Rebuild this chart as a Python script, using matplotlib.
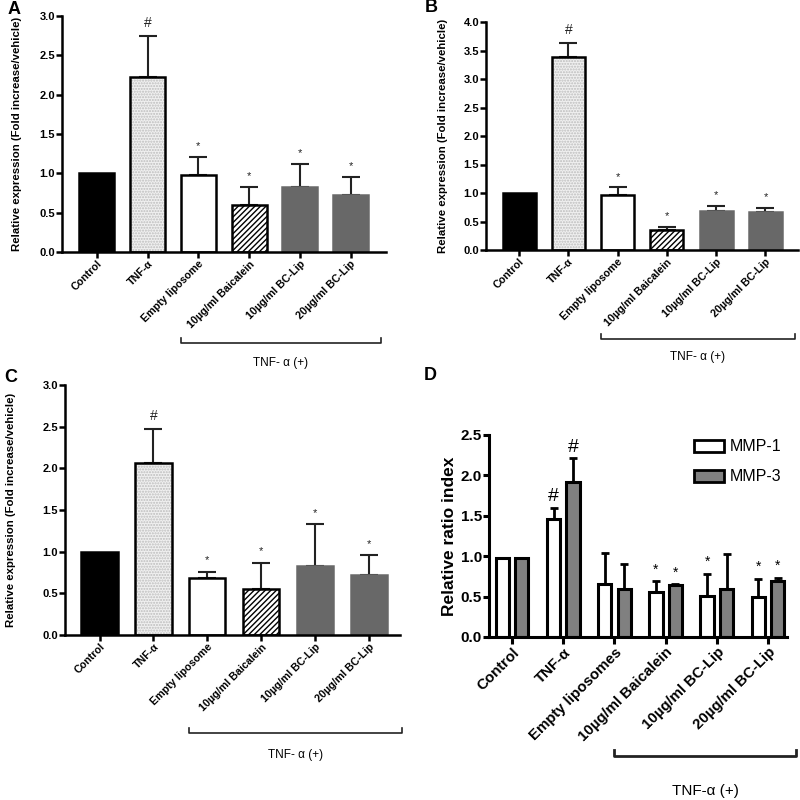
import matplotlib
matplotlib.use("Agg")
import matplotlib.pyplot as plt
import matplotlib.transforms as mtrans
import numpy as np

plt.rcParams['font.family'] = ['Liberation Sans', 'DejaVu Sans']

# ---------------- data ----------------
cats_abc = ["Control", "TNF-\u03b1", "Empty liposome", "10\u00b5g/ml Baicalein",
            "10\u00b5g/ml BC-Lip", "20\u00b5g/ml BC-Lip"]
cats_d = ["Control", "TNF-\u03b1", "Empty liposomes", "10\u00b5g/ml Baicalein",
          "10\u00b5g/ml BC-Lip", "20\u00b5g/ml BC-Lip"]

a_vals = [1.00, 2.23, 0.98, 0.60, 0.82, 0.73]
a_err = [0.00, 0.52, 0.23, 0.23, 0.30, 0.22]
b_vals = [1.00, 3.38, 0.96, 0.35, 0.69, 0.67]
b_err = [0.00, 0.25, 0.14, 0.06, 0.08, 0.07]
c_vals = [1.00, 2.07, 0.68, 0.55, 0.83, 0.72]
c_err = [0.00, 0.40, 0.08, 0.32, 0.50, 0.24]

d_mmp1 = [0.98, 1.46, 0.66, 0.56, 0.51, 0.49]
d_mmp1_err = [0.00, 0.14, 0.38, 0.13, 0.27, 0.23]
d_mmp3 = [0.98, 1.92, 0.60, 0.64, 0.59, 0.69]
d_mmp3_err = [0.00, 0.29, 0.30, 0.01, 0.44, 0.04]

sig_abc = ["", "#", "*", "*", "*", "*"]
sig_d1 = ["", "#", "", "*", "*", "*"]
sig_d3 = ["", "#", "", "*", "", "*"]

ylab_abc = "Relative expression (Fold increase/vehicle)"
ylab_d = "Relative ratio index"
group_label_abc = "TNF- \u03b1 (+)"
group_label_d = "TNF-\u03b1 (+)"

W, H = 800, 800
fig = plt.figure(figsize=(8, 8), dpi=100)
plt.rcParams['hatch.linewidth'] = 1.0


def px_axes(left, top, right, bottom):
    return fig.add_axes([left / W, 1 - bottom / H, (right - left) / W, (bottom - top) / H])


def style_axes(ax, lw, fs):
    for s in ["top", "right"]:
        ax.spines[s].set_visible(False)
    ax.spines["left"].set_linewidth(lw)
    ax.spines["bottom"].set_linewidth(lw)
    ax.tick_params(axis="both", width=lw, length=4, labelsize=fs, pad=1)
    for t in ax.get_yticklabels():
        t.set_fontweight("bold")


def draw_abc(ax, vals, errs, ymax, xlim, width, tick_fs, sig_fs, ylab_x):
    x = np.arange(len(vals))
    styles = [
        dict(color="black", edgecolor="black"),
        None,
        dict(color="white", edgecolor="black"),
        dict(color="white", edgecolor="black", hatch="//////"),
        dict(color="#686868", edgecolor="#686868"),
        dict(color="#686868", edgecolor="#686868"),
    ]
    for i in range(len(vals)):
        if styles[i] is None:
            ax.bar(x[i], vals[i], width=width, color="#f0f0f0", edgecolor="#bdbdbd",
                   hatch="......", linewidth=0, zorder=2)
            ax.bar(x[i], vals[i], width=width, fill=False, edgecolor="black",
                   linewidth=1.8, zorder=3)
        else:
            ax.bar(x[i], vals[i], width=width, linewidth=1.8, zorder=2, **styles[i])
    m = np.array(errs) > 0
    ax.errorbar(x[m], np.array(vals)[m], yerr=[np.zeros(m.sum()), np.array(errs)[m]],
                fmt="none", ecolor="#222222", elinewidth=1.5, capsize=6.3, capthick=1.5, zorder=1)
    for i in range(len(vals)):
        if sig_abc[i]:
            top = vals[i] + errs[i]
            fs = sig_fs + 2 if sig_abc[i] == "#" else sig_fs
            ax.text(x[i], top + ymax * 0.025, sig_abc[i], ha="center", va="bottom",
                    fontsize=fs, color="#222222")
    ax.set_ylim(0, ymax)
    ax.set_xlim(*xlim)
    ax.set_xticks(x)
    ax.set_xticklabels(cats_abc, rotation=45, ha="right", rotation_mode="anchor",
                       fontsize=tick_fs, fontweight="bold")
    ax.set_yticks(np.arange(0, ymax + 0.01, 0.5))
    ax.set_yticklabels([f"{v:.1f}" for v in np.arange(0, ymax + 0.01, 0.5)])
    style_axes(ax, 1.8, 8)
    ax.tick_params(axis="x", length=4, labelsize=tick_fs)
    ax.set_ylabel(ylab_abc, fontsize=8.2, fontweight="bold")
    ax.yaxis.set_label_coords(ylab_x, 0.5)


def bracket(ax, x0, x1, y, ty, text, lw, fs, tick=0.02):
    tr = mtrans.blended_transform_factory(ax.transData, ax.transAxes)
    ax.plot([x0, x0, x1, x1], [y + tick, y, y, y + tick], color="#222222", lw=lw,
            transform=tr, clip_on=False)
    ax.text((x0 + x1) / 2, ty, text, transform=tr, ha="center", va="center", fontsize=fs)


# Panel A
axA = px_axes(62, 16, 386, 252)
draw_abc(axA, a_vals, a_err, 3.0, (-0.69, 5.70), 0.69, 7.7, 8, -0.123)
bracket(axA, 1.66, 5.6, -0.386, -0.47, group_label_abc, 1.2, 8.5)
fig.text(8 / W, 1 - 9 / H, "A", fontsize=13, fontweight="bold", va="center")

# Panel B
axB = px_axes(486, 22, 798, 250)
draw_abc(axB, b_vals, b_err, 4.0, (-0.67, 5.66), 0.67, 7.7, 8, -0.122)
bracket(axB, 1.66, 5.6, -0.39, -0.47, group_label_abc, 1.2, 8.5)
fig.text(425 / W, 1 - 8 / H, "B", fontsize=13, fontweight="bold", va="center")

# Panel C
axC = px_axes(65, 385, 400, 635)
draw_abc(axC, c_vals, c_err, 3.0, (-0.64, 5.57), 0.67, 7.7, 8, -0.146)
bracket(axC, 1.66, 5.6, -0.39, -0.48, group_label_abc, 1.2, 8.5)
fig.text(4 / W, 1 - 378 / H, "C", fontsize=13, fontweight="bold", va="center")

# Panel D
axD = px_axes(489, 435, 787, 637)
x = np.arange(len(d_mmp1))
bw = 0.26
off = 0.19
axD.bar(x - off, d_mmp1, width=bw, color="white", edgecolor="black", linewidth=2.2,
        zorder=2, label="MMP-1")
axD.bar(x + off, d_mmp3, width=bw, color="#808080", edgecolor="black", linewidth=2.2,
        zorder=2, label="MMP-3")
for xs, vals, errs, sig in [(x - off, d_mmp1, d_mmp1_err, sig_d1), (x + off, d_mmp3, d_mmp3_err, sig_d3)]:
    m = np.array(errs) > 0
    axD.errorbar(xs[m], np.array(vals)[m], yerr=[np.zeros(m.sum()), np.array(errs)[m]],
                 fmt="none", ecolor="black", elinewidth=2, capsize=3.2, capthick=2, zorder=1)
    for i in range(len(vals)):
        if sig[i]:
            top = vals[i] + errs[i]
            if sig[i] == "#":
                axD.text(xs[i], top + 0.03, "#", ha="center", va="bottom", fontsize=14)
            else:
                axD.text(xs[i], top + 0.06, "*", ha="center", va="bottom", fontsize=10)
axD.set_ylim(0, 2.5)
axD.set_xlim(-0.45, 5.37)
axD.set_xticks(x)
axD.set_xticklabels(cats_d, rotation=45, ha="right", rotation_mode="anchor",
                    fontsize=10.8, fontweight="bold")
axD.set_yticks(np.arange(0, 2.51, 0.5))
axD.set_yticklabels([f"{v:.1f}" for v in np.arange(0, 2.51, 0.5)])
style_axes(axD, 2.2, 11)
axD.tick_params(axis="x", length=5, labelsize=10.8)
axD.set_ylabel(ylab_d, fontsize=12.5, fontweight="bold", labelpad=3)
leg = axD.legend(loc="upper left", bbox_to_anchor=(0.64, 1.05), frameon=False,
                 fontsize=11.5, handlelength=1.9, handleheight=0.8, labelspacing=0.95,
                 handletextpad=0.35)
for p in leg.get_patches():
    p.set_linewidth(2)
bracket(axD, 1.99, 5.55, -0.59, -0.76, group_label_d, 2.0, 11, tick=0.03)
fig.text(424 / W, 1 - 375 / H, "D", fontsize=13, fontweight="bold", va="center")

fig.savefig("out.png", dpi=100)
